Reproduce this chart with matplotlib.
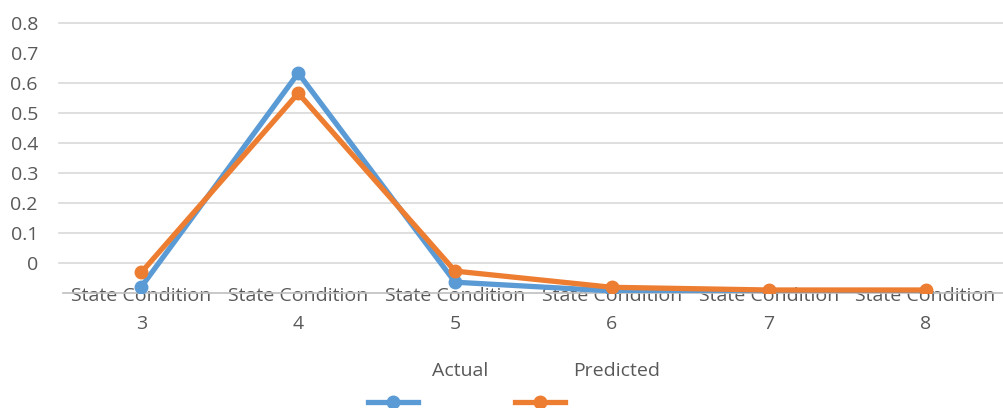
import matplotlib
matplotlib.use('Agg')
import matplotlib.pyplot as plt
from matplotlib.lines import Line2D
import numpy as np

categories = ["3", "4", "5", "6", "7", "8"]
actual = [-0.08, 0.632, -0.065, -0.094, -0.101, -0.101]
predicted = [-0.032, 0.565, -0.028, -0.082, -0.091, -0.091]
yticks = [0, 0.1, 0.2, 0.3, 0.4, 0.5, 0.6, 0.7, 0.8]
series_names = ["Actual", "Predicted"]

blue = '#5B9BD5'
orange = '#ED7D31'
txt = '#595959'

plt.rcParams['font.family'] = ['Open Sans', 'DejaVu Sans']

fig = plt.figure(figsize=(10.04, 4.08), dpi=100)
W, H = 1004, 408
ax = fig.add_axes([63 / W, 1 - 292.7 / H, (1004 - 63) / W, (292.7 - 22.7) / H])
ax.set_xlim(-0.5, len(categories) - 0.5)
ax.set_ylim(-0.1, 0.8)

x = np.arange(len(categories))
ax.plot(x, actual, color=blue, lw=3.8, marker='o', ms=9, zorder=6, solid_joinstyle='miter')
ax.plot(x, predicted, color=orange, lw=3.8, marker='o', ms=9, zorder=7, solid_joinstyle='miter')

# gridlines (the 0.7 line is not shown in the original)
for v in yticks:
    if abs(v - 0.7) < 1e-9:
        continue
    ax.axhline(v, color='#D9D9D9', lw=1.2, zorder=1, xmin=-0.004, clip_on=False)

for s in ['top', 'right', 'left']:
    ax.spines[s].set_visible(False)
ax.spines['bottom'].set_color('#BFBFBF')
ax.spines['bottom'].set_linewidth(1.2)
ax.spines['bottom'].set_zorder(2)

ax.set_yticks(yticks)
ax.set_yticklabels(['0' if v == 0 else f'{v:.1f}' for v in yticks], color=txt, fontsize=14)
ax.tick_params(axis='y', length=0, pad=18)

ax.set_xticks(x)
ax.set_xticklabels(['State Condition\n' + c for c in categories], color=txt,
                   fontsize=14, linespacing=1.7)
ax.tick_params(axis='x', length=0, pad=-4)
for lab in ax.get_xticklabels():
    lab.set_zorder(5)

# legend
leg = [(series_names[0], blue, 460, 393), (series_names[1], orange, 617, 540)]
for name, col, tx, hx in leg:
    fig.text(tx / W, 1 - 371 / H, name, color=txt, fontsize=14, ha='center', va='center')
    fig.add_artist(Line2D([(hx - 25) / W, (hx + 25) / W], [1 - 402 / H, 1 - 402 / H],
                          color=col, lw=3.8, transform=fig.transFigure))
    fig.add_artist(Line2D([hx / W], [1 - 402 / H], color=col, marker='o', ms=9,
                          transform=fig.transFigure))

fig.savefig('out.png', dpi=100)
